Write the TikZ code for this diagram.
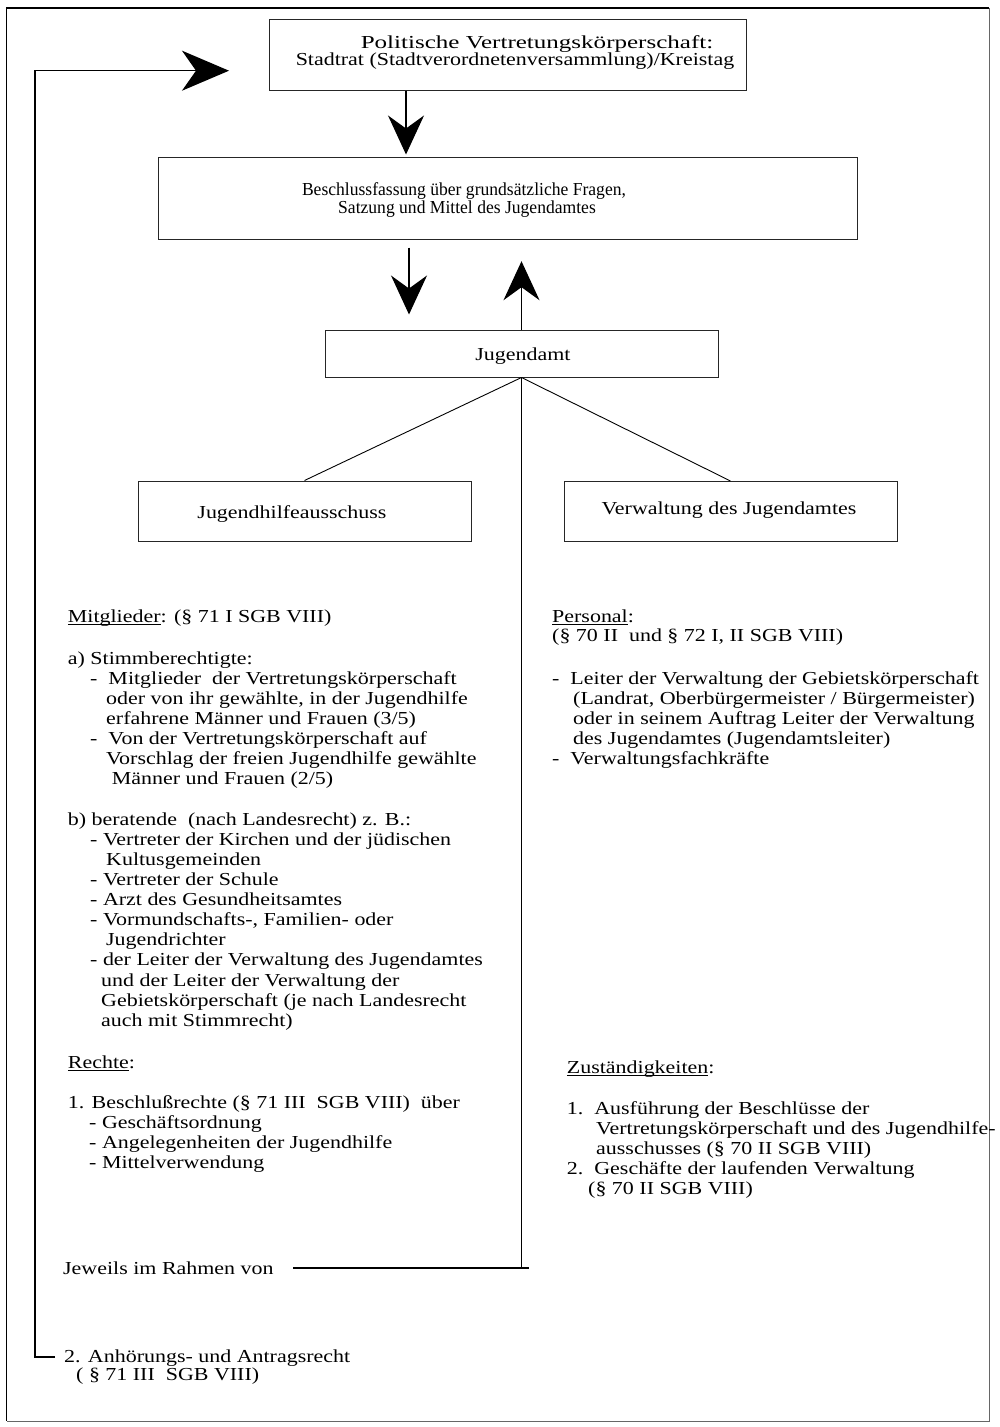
\documentclass[tikz,border=0pt]{standalone}
\usepackage{fontspec}
\setmainfont{Liberation Serif}[FakeStretch=1.2]
\usetikzlibrary{arrows.meta}
% underline a word with a rule just below the baseline
\newcommand{\undl}[1]{\setbox0=\hbox{#1}\rlap{\rule[-2.8pt]{\wd0}{0.9pt}}\box0}
\begin{document}
\begin{tikzpicture}[x=1pt,y=-1pt,
  every node/.style={font=\fontsize{18.3}{20}\selectfont},
  box/.style={draw=black!85, line width=1pt, inner sep=0pt, rectangle},
  txt/.style={anchor=base west, inner sep=0pt},
  ctr/.style={anchor=base, inner sep=0pt},
  wire/.style={line width=1.2pt},
  branch/.style={line width=0.9pt},
  bigarrow/.style={line width=1.2pt, -{Stealth[length=39pt,width=36pt,inset=13pt]}},
  fbarrow/.style={line width=1.4pt, line join=miter, -{Stealth[length=47pt,width=40pt,inset=14pt]}},
]
\useasboundingbox (0,0) rectangle (1000,1427);

% page frame
\draw[line width=1.3pt] (989,8) -- (6.5,8) -- (6.5,1421);
\draw[line width=1pt, black!60] (989,8) -- (989,1421) -- (6.5,1421);

% boxes
\node[box, minimum width=477pt, minimum height=71pt] (pol) at (507.5,54.5) {};
\node[ctr] (pol1) at (537,48.3) {\scalebox{1.14}[1]{Politische Vertretungskörperschaft:}};
\node[ctr] (pol2) at (515,65) {Stadtrat (Stadtverordnetenversammlung)/Kreistag};

\node[box, minimum width=699pt, minimum height=82pt] (besch) at (507.5,198) {};
\node[ctr] (besch1) at (464,195) {\scalebox{0.8}[1]{Beschlussfassung über grundsätzliche Fragen,}};
\node[ctr] (besch2) at (467,213) {\scalebox{0.8}[1]{Satzung und Mittel des Jugendamtes}};

\node[box, minimum width=393pt, minimum height=47pt] (ja) at (521.5,353.5) {};
\node[ctr] (jat) at (523,360.7) {Jugendamt};

\node[box, minimum width=333pt, minimum height=60pt] (jha) at (304.5,511) {};
\node[ctr] (jhat) at (292,518) {Jugendhilfeausschuss};

\node[box, minimum width=333pt, minimum height=60pt] (vja) at (730.5,511.5) {};
\node[ctr] (vjat) at (729,514) {Verwaltung des Jugendamtes};

% arrows between the upper boxes
\coordinate (a1x) at (406,0);
\coordinate (a2x) at (409,0);
\draw[bigarrow, shorten >=2pt] (pol.south -| a1x) -- (besch.north -| a1x);
\draw[bigarrow, shorten <=8pt, shorten >=15pt] (besch.south -| a2x) -- (ja.north -| a2x);
\draw[bigarrow, shorten >=21.7pt] (ja.north) -- (besch.south -| ja.north);

% branches of the Jugendamt
\draw[branch] (ja.south) -- (jha.north);
\draw[branch] (ja.south) -- (vja.north);

% central line down to "Jeweils im Rahmen von"
\coordinate (jbase) at (522,1268);
\coordinate (jl) at (293,1268);
\coordinate (jr) at (529,1268);
\draw[wire] (ja.south) -- (ja.south |- jbase);
\draw[wire] (jl) -- (jr);

% feedback line back to the council
\coordinate (fbstart) at (55,1357);
\coordinate (fbtop) at (35,70.7);
\coordinate (fbtip) at (229,70.7);
\draw[fbarrow] (fbstart) -| (fbtop) -- (fbtip);

% left column
\node[txt] (l1) at (67.7,622) {\undl{Mitglieder}: (§ 71 I SGB VIII)};
\node[txt] (l2) at (67.7,664) {a) Stimmberechtigte:};
\node[txt] (l3) at (90,684) {-\ \ Mitglieder\ \ der Vertretungskörperschaft};
\node[txt] (l4) at (106,704) {oder von ihr gewählte, in der Jugendhilfe};
\node[txt] (l5) at (106,724) {erfahrene Männer und Frauen (3/5)};
\node[txt] (l6) at (90,744) {-\ \ Von der Vertretungskörperschaft auf};
\node[txt] (l7) at (106,764) {Vorschlag der freien Jugendhilfe gewählte};
\node[txt] (l8) at (111.7,784) {Männer und Frauen (2/5)};
\node[txt] (l9) at (67.7,825) {b) beratende\ \ (nach Landesrecht) z. B.:};
\node[txt] (l10) at (90,845) {- Vertreter der Kirchen und der jüdischen};
\node[txt] (l11) at (106,865) {Kultusgemeinden};
\node[txt] (l12) at (90,885) {- Vertreter der Schule};
\node[txt] (l13) at (90,905) {- Arzt des Gesundheitsamtes};
\node[txt] (l14) at (90,925) {- Vormundschafts-, Familien- oder};
\node[txt] (l15) at (106,945) {Jugendrichter};
\node[txt] (l16) at (90,965) {- der Leiter der Verwaltung des Jugendamtes};
\node[txt] (l17) at (101,986) {und der Leiter der Verwaltung der};
\node[txt] (l18) at (101,1006) {Gebietskörperschaft (je nach Landesrecht};
\node[txt] (l19) at (101,1026) {auch mit Stimmrecht)};
\node[txt] (l20) at (67.7,1068) {\undl{Rechte}:};
\node[txt] (l21) at (67.7,1108) {1. Beschlußrechte (§ 71 III\ \ SGB VIII)\ \ über};
\node[txt] (l22) at (89,1128) {- Geschäftsordnung};
\node[txt] (l23) at (89,1148) {- Angelegenheiten der Jugendhilfe};
\node[txt] (l24) at (89,1168) {- Mittelverwendung};

% right column
\node[txt] (r1) at (552,622) {\undl{Personal}:};
\node[txt] (r2) at (552,641.7) {(§ 70 II\ \ und § 72 I, II SGB VIII)};
\node[txt] (r3) at (552,684) {-\ \ Leiter der Verwaltung der Gebietskörperschaft};
\node[txt] (r4) at (573,704) {(Landrat, Oberbürgermeister / Bürgermeister)};
\node[txt] (r5) at (573,724) {oder in seinem Auftrag Leiter der Verwaltung};
\node[txt] (r6) at (573,744) {des Jugendamtes (Jugendamtsleiter)};
\node[txt] (r7) at (552,764) {-\ \ Verwaltungsfachkräfte};
\node[txt] (r8) at (566.7,1073) {\undl{Zuständigkeiten}:};
\node[txt] (r9) at (566.7,1114) {1.\ \ Ausführung der Beschlüsse der};
\node[txt] (r10) at (596,1134) {Vertretungskörperschaft und des Jugendhilfe-};
\node[txt] (r11) at (596,1154) {ausschusses (§ 70 II SGB VIII)};
\node[txt] (r12) at (566.7,1174) {2.\ \ Geschäfte der laufenden Verwaltung};
\node[txt] (r13) at (588,1194) {(§ 70 II SGB VIII)};

% bottom texts
\node[txt] (jew) at (63,1274) {Jeweils im Rahmen von};
\node[txt] (anh1) at (64,1362.7) {2. Anhörungs- und Antragsrecht};
\node[txt] (anh2) at (76,1380) {( § 71 III\ \ SGB VIII)};
\end{tikzpicture}
\end{document}
